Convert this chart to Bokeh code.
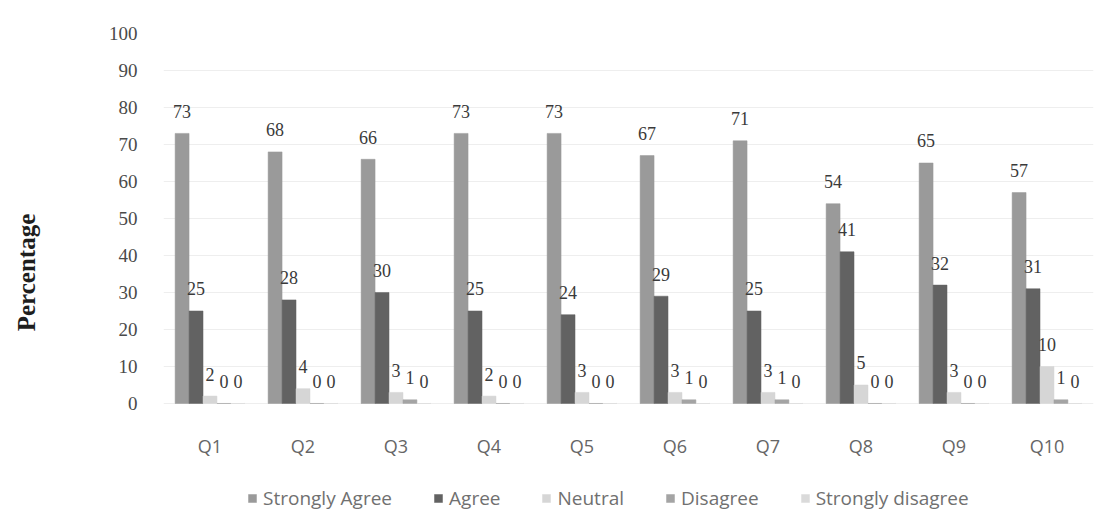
from bokeh.plotting import figure
from bokeh.models import ColumnDataSource, FactorRange, Legend, LegendItem, LabelSet
from bokeh.transform import dodge
from bokeh.core.properties import value
from bokeh.embed import file_html
from bokeh.resources import INLINE

categories = ["Q1", "Q2", "Q3", "Q4", "Q5", "Q6", "Q7", "Q8", "Q9", "Q10"]
series_names = ["Strongly Agree", "Agree", "Neutral", "Disagree", "Strongly disagree"]
strongly_agree = [73, 68, 66, 73, 73, 67, 71, 54, 65, 57]
agree = [25, 28, 30, 25, 24, 29, 25, 41, 32, 31]
neutral = [2, 4, 3, 2, 3, 3, 3, 5, 3, 10]
disagree = [0, 0, 1, 0, 0, 1, 1, 0, 0, 1]
strongly_disagree = [0, 0, 0, 0, 0, 0, 0, 0, 0, 0]
y_ticks = [0, 10, 20, 30, 40, 50, 60, 70, 80, 90, 100]

series = [strongly_agree, agree, neutral, disagree, strongly_disagree]
colors = ["#9a9a9a", "#626262", "#d6d6d6", "#a4a4a4", "#dadada"]

# y range extends below 0 to leave room for the category row and the legend
p = figure(x_range=FactorRange(*categories, range_padding=0), y_range=(-29.2, 100),
           width=1095, height=512, output_backend="svg", toolbar_location=None,
           min_border_top=33, min_border_right=2, min_border_bottom=1, min_border_left=163)
p.outline_line_color = None
p.background_fill_color = "white"

bw = 0.15
offsets = [-0.3, -0.15, 0.0, 0.15, 0.3]
items = []
for name, vals, col, off in zip(series_names, series, colors, offsets):
    src = ColumnDataSource(dict(q=categories, v=vals, t=[str(v) for v in vals]))
    r = p.vbar(x=dodge("q", off, range=p.x_range), top="v", bottom=0, width=bw, source=src,
               fill_color=col, line_color=col, line_width=0.5)
    items.append(LegendItem(label=name, renderers=[r]))
    lbl = LabelSet(x=dodge("q", off, range=p.x_range), y="v", text="t", source=src,
                   text_align="center", text_baseline="middle", y_offset=22,
                   text_font="Liberation Serif", text_font_size="18px", text_color="#3a3a3a")
    p.add_layout(lbl)

# category labels row (below the zero line)
cat_src = ColumnDataSource(dict(q=categories, y=[-11.4] * len(categories)))
p.text(x="q", y="y", text="q", source=cat_src, text_align="center", text_baseline="middle",
       text_font=value("Open Sans"), text_font_size="18px", text_color="#666666")

p.xaxis.visible = False
p.yaxis.ticker = y_ticks
p.yaxis.axis_line_color = None
p.yaxis.major_tick_line_color = None
p.yaxis.minor_tick_line_color = None
p.yaxis.major_label_text_font = "Liberation Serif"
p.yaxis.major_label_text_font_size = "19px"
p.yaxis.major_label_text_color = "#4a4a4a"
p.yaxis.major_label_standoff = 20
p.yaxis.axis_label = "Percentage"
p.yaxis.axis_label_text_font = "Liberation Serif"
p.yaxis.axis_label_text_font_style = "bold"
p.yaxis.axis_label_text_font_size = "25px"
p.yaxis.axis_label_text_color = "#1e1e1e"
p.yaxis.axis_label_standoff = 66

p.xgrid.grid_line_color = None
p.ygrid.ticker = y_ticks
p.ygrid.grid_line_color = "#eeeeee"

legend = Legend(items=items, orientation="horizontal", location=(84, 0),
                label_text_font="Open Sans", label_text_font_size="19px",
                label_text_color="#707070", border_line_color=None,
                background_fill_alpha=0,
                glyph_width=10, glyph_height=10, spacing=41, label_standoff=6,
                margin=0, padding=0)
p.add_layout(legend)

open("out.html", "w").write(file_html(p, INLINE))
